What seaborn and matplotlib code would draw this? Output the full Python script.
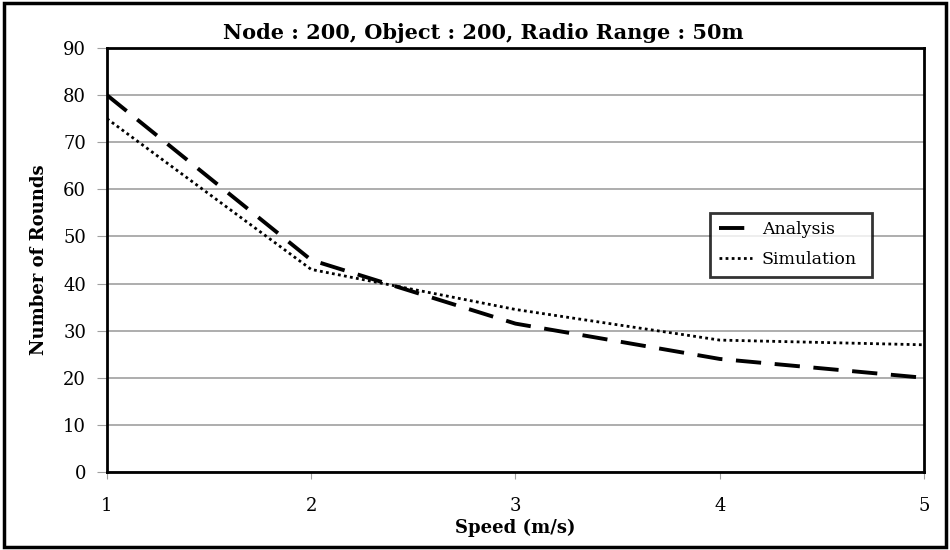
import pandas as pd
import seaborn as sns
from matplotlib import pyplot as plt
from matplotlib.patches import Rectangle

# values
speed = [1, 2, 3, 4, 5]
analysis = [80, 45, 31.5, 24, 20]
simulation = [75, 43, 34.5, 28, 27]
y_ticks = [0, 10, 20, 30, 40, 50, 60, 70, 80, 90]

sns.set_style("white")
plt.rcParams['font.family'] = ['DejaVu Serif']
plt.rcParams['text.color'] = 'black'
plt.rcParams['axes.labelcolor'] = 'black'

fig = plt.figure(figsize=(9.5, 5.5), dpi=100)
ax = fig.add_axes([0.1126, 0.1418, 0.860, 0.7709])

sns.lineplot(x=speed, y=analysis, ax=ax, color="black", lw=2.8,
             linestyle=(0, (6.5, 3.5)), label="Analysis")
sns.lineplot(x=speed, y=simulation, ax=ax, color="black", lw=2.0,
             linestyle=(0, (1, 1.2)), label="Simulation")

ax.set_xlim(1, 5)
ax.set_ylim(0, 90)
ax.set_xticks(speed)
ax.set_yticks(y_ticks)
ax.yaxis.grid(True, color="#a0a0a0", lw=1.2)
ax.xaxis.grid(False)
ax.tick_params(axis="both", labelsize=13, length=7, color="#a0a0a0",
               labelcolor="black", direction="out", bottom=True, left=True)
ax.tick_params(axis="x", pad=13, length=5)
ax.tick_params(axis="y", pad=8)
for s in ax.spines.values():
    s.set_color("black")
    s.set_linewidth(2)

ax.set_xlabel("Speed (m/s)", fontsize=13, fontweight="bold", labelpad=3)
ax.set_ylabel("Number of Rounds", fontsize=13, fontweight="bold", labelpad=11)
fig.suptitle("Node : 200, Object : 200, Radio Range : 50m", fontsize=15,
             fontweight="bold", x=0.509, y=0.958)

leg = ax.legend(loc="lower left", bbox_to_anchor=(0.738, 0.46, 0.198, 0.17),
                mode="expand", fontsize=12.5, frameon=True, fancybox=False,
                handlelength=1.9, handletextpad=0.6, borderpad=0.5,
                labelspacing=0.75, borderaxespad=0)
leg.get_frame().set_edgecolor("black")
leg.get_frame().set_linewidth(2)

fig.patches.append(Rectangle((0.004, 0.005), 0.992, 0.99, transform=fig.transFigure,
                             fill=False, edgecolor="black", lw=2.5))

fig.savefig("out.png", dpi=100)
